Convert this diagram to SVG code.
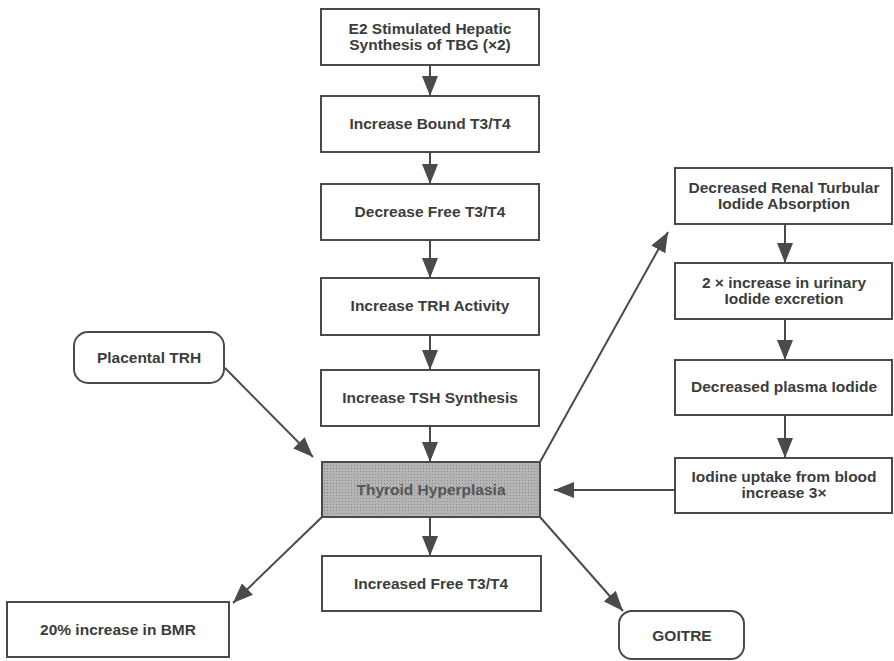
<svg xmlns="http://www.w3.org/2000/svg" width="894" height="661" viewBox="0 0 894 661">
<style>
.box{fill:#fff;stroke:#4a4a4a;stroke-width:2}
.hyp{fill:#ababab;stroke:#4a4a4a;stroke-width:2}
.t{font-family:"Liberation Sans",Arial,sans-serif;font-size:15.5px;font-weight:bold;fill:#3c3c3c;text-anchor:middle}
.th{fill:#555}
.c{stroke:#4a4a4a;stroke-width:2;fill:none;marker-end:url(#ah)}
</style>
<defs>
<marker id="ah" markerUnits="userSpaceOnUse" markerWidth="20" markerHeight="16" viewBox="0 0 20 16" refX="20" refY="8" orient="auto">
<path d="M0,0 L20,8 L0,16 Z" fill="#4a4a4a"/>
</marker>
<pattern id="dots" width="3" height="3" patternUnits="userSpaceOnUse">
<rect width="3" height="3" fill="#b4b4b4"/>
<rect width="1" height="1" fill="#8a8a8a"/>
</pattern>
</defs>
<rect width="894" height="661" fill="#fff"/>
<g id="connectors">
<line class="c" x1="430" y1="65" x2="430" y2="96"/>
<line class="c" x1="430" y1="152" x2="430" y2="184"/>
<line class="c" x1="430" y1="240" x2="430" y2="278"/>
<line class="c" x1="430" y1="335" x2="430" y2="370"/>
<line class="c" x1="430" y1="426" x2="430" y2="462"/>
<line class="c" x1="430" y1="517" x2="430" y2="556"/>
<line class="c" x1="225" y1="368" x2="313" y2="457"/>
<line class="c" x1="540" y1="462" x2="668" y2="232"/>
<line class="c" x1="785" y1="224" x2="785" y2="263"/>
<line class="c" x1="785" y1="319" x2="785" y2="360"/>
<line class="c" x1="785" y1="415" x2="785" y2="458"/>
<line class="c" x1="675" y1="490" x2="554" y2="490"/>
<line class="c" x1="322" y1="517" x2="233" y2="603"/>
<line class="c" x1="540" y1="517" x2="623" y2="611"/>
</g>
<g id="n-e2"><rect class="box" x="321" y="9" width="218" height="56"/><text class="t" x="430" y="34">E2 Stimulated Hepatic</text><text class="t" x="430" y="50">Synthesis of TBG (×2)</text></g>
<g id="n-bound"><rect class="box" x="321" y="96" width="218" height="56"/><text class="t" x="430" y="129">Increase Bound T3/T4</text></g>
<g id="n-free"><rect class="box" x="321" y="184" width="218" height="56"/><text class="t" x="430" y="217">Decrease Free T3/T4</text></g>
<g id="n-trh"><rect class="box" x="321" y="278" width="218" height="57"/><text class="t" x="430" y="311">Increase TRH Activity</text></g>
<g id="n-tsh"><rect class="box" x="321" y="370" width="218" height="56"/><text class="t" x="430" y="403">Increase TSH Synthesis</text></g>
<g id="n-hyp"><rect class="hyp" x="322" y="462" width="218" height="55" style="fill:url(#dots)"/><text class="t th" x="431" y="495">Thyroid Hyperplasia</text></g>
<g id="n-incfree"><rect class="box" x="322" y="556" width="219" height="55"/><text class="t" x="431" y="589">Increased Free T3/T4</text></g>
<g id="n-placental"><rect class="box" x="74" y="332" width="150" height="51" rx="14"/><text class="t" x="149" y="363">Placental TRH</text></g>
<g id="n-bmr"><rect class="box" x="7" y="602" width="222" height="55"/><text class="t" x="118" y="635">20% increase in BMR</text></g>
<g id="n-goitre"><rect class="box" x="619" y="611" width="125" height="48" rx="13"/><text class="t" x="682" y="641">GOITRE</text></g>
<g id="n-renal"><rect class="box" x="675" y="168" width="217" height="56"/><text class="t" x="784" y="193">Decreased Renal Turbular</text><text class="t" x="784" y="209">Iodide Absorption</text></g>
<g id="n-urinary"><rect class="box" x="675" y="263" width="217" height="56"/><text class="t" x="784" y="288">2 × increase in urinary</text><text class="t" x="784" y="304">Iodide excretion</text></g>
<g id="n-plasma"><rect class="box" x="675" y="360" width="217" height="55"/><text class="t" x="784" y="392">Decreased plasma Iodide</text></g>
<g id="n-uptake"><rect class="box" x="675" y="458" width="217" height="55"/><text class="t" x="784" y="482">Iodine uptake from blood</text><text class="t" x="784" y="498">increase 3×</text></g>
</svg>
